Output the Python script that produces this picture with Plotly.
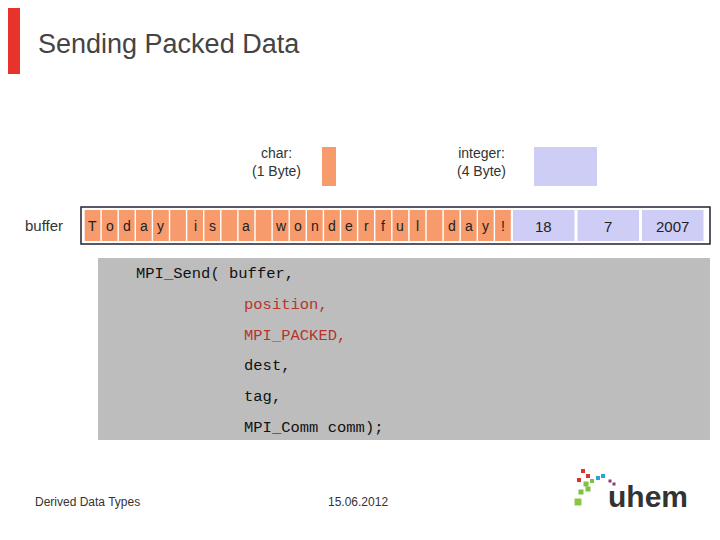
import plotly.graph_objects as go

title = "Sending Packed Data"
chars = list("Today is a wonderful day!")
ints = [18, 7, 2007]
code_lines = ["MPI_Send( buffer,", "position,", "MPI_PACKED,", "dest,", "tag,", "MPI_Comm comm);"]
code_red = [False, True, True, False, False, False]
footer_left = "Derived Data Types"
footer_date = "15.06.2012"

ORANGE = "#f79a6c"
LAV = "#cdcdf5"

fig = go.Figure()
shapes = []
ann = []

def text(x, y, s, size=14, color="#333", font="Liberation Sans, Arial", anchor="center"):
    ann.append(dict(x=x, y=y, text=s, showarrow=False, xanchor=anchor, yanchor="middle",
                    font=dict(size=size, color=color, family=font)))

# red bar + title
shapes.append(dict(type="rect", x0=8, x1=20, y0=8, y1=74, fillcolor="#e8322c", line_width=0))
text(36, 44, title, size=27, color="#444", anchor="left")

# legend boxes
text(276, 162, "char:<br>(1 Byte)", size=14)
shapes.append(dict(type="rect", x0=322, x1=336, y0=147, y1=186, fillcolor=ORANGE, line_width=0))
text(481, 162, "integer:<br>(4 Byte)", size=14)
shapes.append(dict(type="rect", x0=534, x1=597, y0=147, y1=186, fillcolor=LAV, line_width=0))

# buffer row
text(44, 225, "buffer", size=15, anchor="center")
shapes.append(dict(type="rect", x0=81, x1=710, y0=207, y1=244, fillcolor="white",
                   line=dict(color="#223", width=1.5)))
cw = 17.1
x = 84
for c in chars:
    shapes.append(dict(type="rect", x0=x + 0.7, x1=x + cw - 0.7, y0=210, y1=241, fillcolor=ORANGE, line_width=0))
    text(x + cw / 2, 226, c, size=14, color="#222")
    x += cw
iw = 64.5
for v in ints:
    shapes.append(dict(type="rect", x0=x + 1.5, x1=x + iw - 1.5, y0=210, y1=241, fillcolor=LAV, line_width=0))
    text(x + iw / 2, 226, str(v), size=15, color="#222")
    x += iw

# code box
shapes.append(dict(type="rect", x0=98, x1=710, y0=258, y1=440, fillcolor="#bdbdbd", line_width=0))
for i, (line, red) in enumerate(zip(code_lines, code_red)):
    lx = 134 if i == 0 else 242
    text(lx, 274 + i * 30.8, line, size=15.5, color="#b5352a" if red else "#111",
         font="Liberation Mono, Courier New", anchor="left")

# footer
text(33, 502, footer_left, size=12, color="#333", anchor="left")
text(358, 502, footer_date, size=12, color="#333")

# logo
for (sx, sy, col, s) in [(583, 471, "#d9342b", 4), (588, 476, "#d9342b", 4), (579, 480, "#d9342b", 4),
                         (586, 484, "#7cc142", 5), (592, 481, "#7cc142", 4), (598, 478, "#2aa3d8", 4),
                         (603, 476, "#2aa3d8", 4), (610, 481, "#8a3b6e", 3), (614, 484, "#8a3b6e", 3),
                         (581, 492, "#7cc142", 5), (588, 489, "#7cc142", 5), (578, 502, "#8cc63f", 7)]:
    shapes.append(dict(type="rect", x0=sx - s / 2, x1=sx + s / 2, y0=sy - s / 2, y1=sy + s / 2,
                       fillcolor=col, line_width=0))
text(648, 496, "<b>uhem</b>", size=30, color="#333")

# page body margin shifts the figure by 8px; offset ranges so coordinates match pixels
fig.update_layout(width=720, height=540, margin=dict(l=0, r=0, t=0, b=0),
                  plot_bgcolor="white", paper_bgcolor="white", shapes=shapes, annotations=ann,
                  xaxis=dict(range=[8, 728], visible=False, fixedrange=True),
                  yaxis=dict(range=[548, 8], visible=False, fixedrange=True), showlegend=False)
fig.write_html("out.html")
